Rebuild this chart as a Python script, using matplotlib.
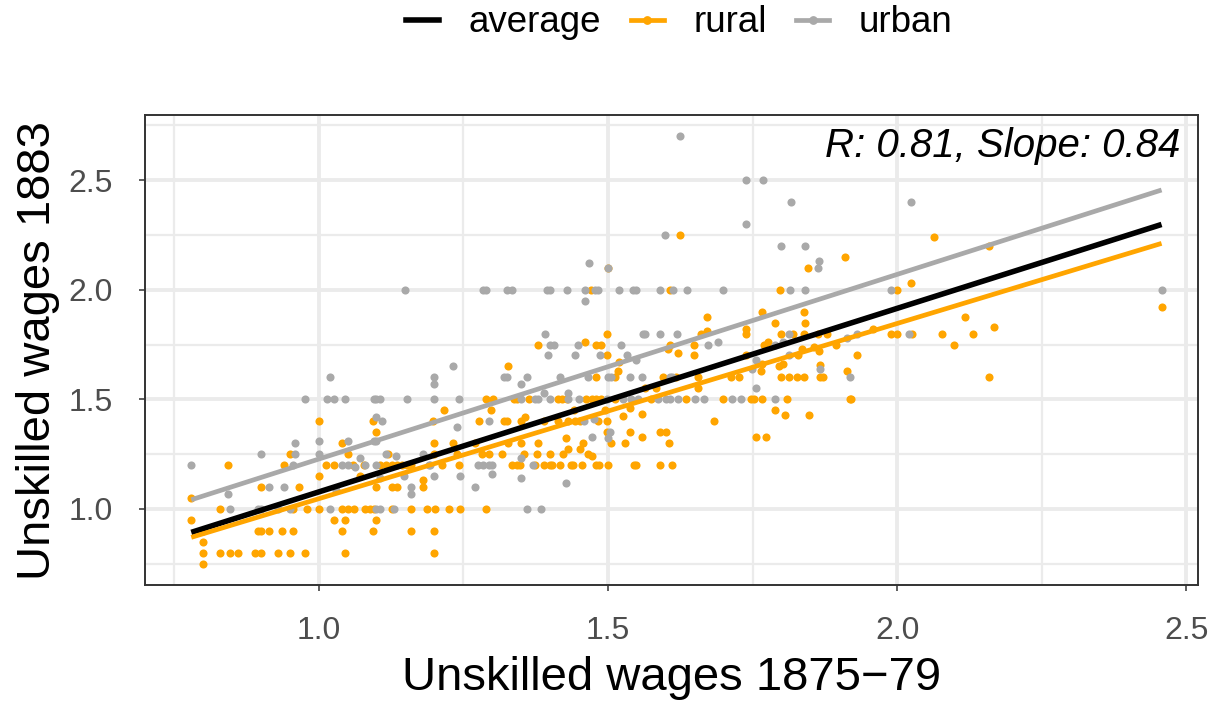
import numpy as np
import matplotlib.pyplot as plt
from matplotlib.lines import Line2D

plt.rcParams['font.family'] = ['Liberation Sans', 'DejaVu Sans']

# wage pairs (1875-79, 1883)
rural = [
    (0.78, 1.05), (0.78, 0.95), (0.80, 0.90), (0.80, 0.85), (0.80, 0.80), (0.80, 0.75),
    (0.843, 1.20), (0.83, 1.00), (0.83, 0.80), (0.847, 0.80), (0.86, 0.80),
    (0.90, 1.10), (0.89, 0.80), (0.90, 0.80),
    (0.895, 0.90), (0.90, 0.90), (0.914, 0.90), (0.937, 0.90), (0.955, 0.90),
    (0.93, 0.80), (0.95, 0.80), (0.976, 0.80),
    (0.94, 1.20), (0.95, 1.25), (0.966, 1.10),
    (0.955, 1.00), (0.98, 1.00), (1.00, 1.00),
    (1.00, 1.40), (1.00, 1.15), (1.013, 1.20), (1.026, 1.20), (1.04, 1.30),
    (1.027, 0.95), (1.04, 1.00), (1.04, 0.90), (1.046, 0.80),
    (1.327, 1.65),
    (1.29, 1.50), (1.302, 1.50), (1.337, 1.50), (1.343, 1.50), (1.364, 1.50),
    (1.298, 1.45), (1.217, 1.45),
    (1.197, 1.40), (1.278, 1.40), (1.32, 1.40), (1.325, 1.40), (1.35, 1.40), (1.357, 1.42),
    (1.094, 1.40), (1.10, 1.35),
    (1.20, 1.30), (1.232, 1.30), (1.27, 1.30), (1.327, 1.30), (1.35, 1.30),
    (1.05, 1.25), (1.12, 1.25), (1.20, 1.25), (1.24, 1.25), (1.282, 1.25), (1.294, 1.25), (1.317, 1.25),
    (1.06, 1.20), (1.078, 1.20), (1.107, 1.20), (1.117, 1.20), (1.127, 1.20), (1.136, 1.20),
    (1.145, 1.20), (1.153, 1.20), (1.16, 1.20), (1.213, 1.20), (1.242, 1.20), (1.334, 1.20), (1.343, 1.20),
    (1.071, 1.15),
    (1.127, 1.10), (1.136, 1.10), (1.18, 1.13), (1.18, 1.10), (1.10, 1.10),
    (1.05, 1.00), (1.061, 1.00), (1.081, 1.00), (1.089, 1.00), (1.095, 1.00), (1.127, 1.00),
    (1.16, 1.00), (1.187, 1.00), (1.202, 1.00), (1.225, 1.00), (1.245, 1.00), (1.29, 1.00),
    (1.046, 0.95), (1.10, 0.95),
    (1.094, 0.90), (1.16, 0.90), (1.20, 0.90),
    (1.20, 0.80),
    (1.47, 2.00), (1.50, 2.10), (1.608, 2.00), (1.624, 2.25), (1.798, 2.00), (1.846, 2.10),
    (1.91, 2.15), (1.671, 1.874),
    (1.38, 1.75), (1.46, 1.76), (1.479, 1.75), (1.489, 1.75), (1.499, 1.80), (1.499, 1.70),
    (1.52, 1.67), (1.518, 1.63), (1.607, 1.75), (1.604, 1.73), (1.622, 1.71), (1.649, 1.75),
    (1.649, 1.70), (1.661, 1.80), (1.671, 1.81),
    (1.48, 1.60), (1.512, 1.60), (1.564, 1.55), (1.595, 1.60), (1.618, 1.60), (1.656, 1.60),
    (1.655, 1.55), (1.584, 1.55),
    (1.414, 1.50), (1.42, 1.50), (1.429, 1.50), (1.463, 1.50), (1.472, 1.50), (1.48, 1.50),
    (1.489, 1.50), (1.512, 1.50), (1.575, 1.50), (1.635, 1.50), (1.699, 1.50),
    (1.441, 1.45), (1.495, 1.45), (1.538, 1.46), (1.559, 1.435),
    (1.39, 1.40), (1.413, 1.40), (1.431, 1.40), (1.443, 1.40), (1.452, 1.40), (1.483, 1.40),
    (1.499, 1.40), (1.527, 1.425), (1.683, 1.40),
    (1.499, 1.35), (1.538, 1.35), (1.559, 1.33), (1.59, 1.35), (1.60, 1.35), (1.605, 1.30),
    (1.529, 1.30), (1.505, 1.30), (1.379, 1.30), (1.427, 1.325),
    (1.431, 1.275), (1.452, 1.275), (1.457, 1.30),
    (1.355, 1.25), (1.377, 1.25), (1.40, 1.25), (1.423, 1.25), (1.466, 1.25), (1.472, 1.24),
    (1.348, 1.20), (1.374, 1.20), (1.389, 1.20), (1.40, 1.20), (1.404, 1.20), (1.418, 1.20),
    (1.436, 1.20), (1.44, 1.20), (1.455, 1.20), (1.48, 1.20), (1.484, 1.20), (1.50, 1.20),
    (1.545, 1.20), (1.549, 1.20), (1.59, 1.20), (1.61, 1.20),
    (1.767, 1.90), (1.839, 1.90), (1.789, 1.85), (1.841, 1.85), (1.739, 1.82), (1.739, 1.80),
    (1.80, 1.80), (1.82, 1.80), (1.839, 1.80), (1.863, 1.80), (1.878, 1.80),
    (1.77, 1.75), (1.776, 1.76), (1.835, 1.73), (1.857, 1.74), (1.865, 1.72), (1.828, 1.70),
    (1.894, 1.75), (1.958, 1.82), (1.989, 1.80), (2.00, 1.80), (2.026, 1.80), (1.93, 1.70), (1.739, 1.70),
    (1.767, 1.66), (1.796, 1.65), (1.802, 1.66), (1.765, 1.63), (1.713, 1.60), (1.726, 1.60),
    (1.80, 1.60), (1.813, 1.60), (1.827, 1.60), (1.839, 1.60), (1.867, 1.60), (1.871, 1.60),
    (1.867, 1.655), (1.914, 1.63),
    (1.747, 1.50), (1.753, 1.50), (1.767, 1.50), (1.809, 1.50), (1.918, 1.50), (1.921, 1.50),
    (1.789, 1.45), (1.807, 1.43), (1.847, 1.43), (1.756, 1.33), (1.773, 1.33),
    (2.064, 2.24), (2.159, 2.20), (2.00, 2.00), (2.024, 2.03), (2.078, 1.80), (2.098, 1.75),
    (2.118, 1.875), (2.131, 1.80), (2.168, 1.83), (2.159, 1.60), (2.457, 1.92),
]

urban = [
    (0.78, 1.20), (0.843, 1.07), (0.847, 1.00), (0.90, 1.25), (0.914, 1.10), (0.94, 1.10),
    (0.896, 1.00), (0.90, 1.00), (0.93, 1.00), (0.95, 1.00), (0.96, 1.30), (0.96, 1.25),
    (0.955, 1.20), (0.976, 1.50), (1.014, 1.50), (1.026, 1.50), (1.02, 1.60), (1.00, 1.31),
    (1.00, 1.25), (1.03, 1.085), (1.02, 1.00), (1.04, 1.20), (1.046, 1.50),
    (1.095, 1.50), (1.10, 1.50), (1.106, 1.50), (1.152, 1.50), (1.199, 1.50), (1.242, 1.50),
    (1.232, 1.65), (1.20, 1.60), (1.20, 1.57), (1.10, 1.42), (1.11, 1.40), (1.05, 1.31),
    (1.095, 1.31), (1.10, 1.31), (1.24, 1.375), (1.072, 1.23), (1.05, 1.20), (1.063, 1.19),
    (1.08, 1.20), (1.10, 1.20), (1.117, 1.25), (1.133, 1.24), (1.18, 1.25), (1.19, 1.20),
    (1.193, 1.20), (1.147, 1.15), (1.107, 1.14), (1.16, 1.10), (1.16, 1.07), (1.20, 1.15),
    (1.245, 1.15), (1.27, 1.10), (1.275, 1.20), (1.285, 1.20), (1.294, 1.20), (1.30, 1.20),
    (1.30, 1.16), (1.295, 1.40), (1.35, 1.50), (1.35, 1.57), (1.36, 1.60), (1.32, 1.60),
    (1.325, 1.60), (1.35, 1.23), (1.35, 1.14), (1.37, 1.20), (1.10, 1.00), (1.107, 1.00),
    (1.13, 1.00), (1.36, 1.00), (1.384, 1.00), (1.38, 1.50),
    (1.15, 2.00), (1.285, 2.00), (1.29, 2.00), (1.325, 2.00), (1.335, 2.00), (1.395, 2.00),
    (1.40, 2.00), (1.43, 2.00), (1.46, 2.00), (1.478, 2.00), (1.483, 2.00), (1.46, 1.95),
    (1.467, 2.12), (1.50, 2.10),
    (1.624, 2.70), (1.739, 2.50), (1.769, 2.50), (1.817, 2.40), (1.739, 2.30), (1.599, 2.25),
    (1.799, 2.20), (1.84, 2.20), (1.865, 2.13), (1.864, 2.10), (1.52, 2.00), (1.544, 2.00),
    (1.549, 2.00), (1.59, 2.00), (1.613, 2.00), (1.636, 2.00), (1.699, 2.00), (1.814, 2.00),
    (1.84, 2.00),
    (1.391, 1.80), (1.40, 1.75), (1.407, 1.75), (1.397, 1.70), (1.443, 1.70), (1.449, 1.75),
    (1.487, 1.70), (1.522, 1.75), (1.533, 1.70), (1.549, 1.68), (1.56, 1.80), (1.564, 1.80),
    (1.59, 1.80), (1.619, 1.80), (1.673, 1.75), (1.69, 1.76),
    (1.417, 1.60), (1.466, 1.60), (1.50, 1.60), (1.505, 1.60), (1.539, 1.60), (1.559, 1.60),
    (1.607, 1.60), (1.611, 1.60),
    (1.39, 1.53), (1.431, 1.53),
    (1.374, 1.50), (1.40, 1.50), (1.431, 1.50), (1.45, 1.50), (1.499, 1.50), (1.526, 1.50),
    (1.54, 1.50), (1.552, 1.50), (1.587, 1.50), (1.601, 1.50), (1.607, 1.50), (1.622, 1.50),
    (1.65, 1.50), (1.666, 1.50), (1.715, 1.50),
    (1.458, 1.40), (1.476, 1.41), (1.473, 1.33), (1.503, 1.35), (1.50, 1.325), (1.427, 1.12),
    (1.813, 1.80), (1.789, 1.75), (1.803, 1.76), (1.756, 1.68), (1.749, 1.64), (1.813, 1.70),
    (1.866, 1.64), (1.914, 1.78), (1.931, 1.80), (2.02, 1.80), (1.756, 1.55), (1.918, 1.60),
    (1.73, 1.50), (1.789, 1.50),
    (2.024, 2.40), (1.989, 2.00), (2.457, 2.00),
]

# linear fits as drawn (intercept, slope)
fit_groups = ['average', 'rural', 'urban']
fit_intercept = [0.239, 0.246, 0.384]
fit_slope = [0.838, 0.800, 0.843]
fit_colors = ['black', '#FFA500', '#A9A9A9']
fit_widths = [4.0, 3.4, 3.4]

x_ticks = [1.0, 1.5, 2.0, 2.5]
x_tick_labels = ['1.0', '1.5', '2.0', '2.5']
y_ticks = [1.0, 1.5, 2.0, 2.5]
y_tick_labels = ['1.0', '1.5', '2.0', '2.5']
stat_label = 'R: 0.81, Slope: 0.84'

rx, ry = np.array(rural).T
ux, uy = np.array(urban).T
all_x = np.concatenate([rx, ux])

W, H = 1225, 704
fig = plt.figure(figsize=(W / 100, H / 100), dpi=100)
left, right, top, bottom = 145, 1198, 115, 585
ax = fig.add_axes([left / W, 1 - bottom / H, (right - left) / W, (bottom - top) / H])

ax.scatter(rx, ry, s=34, color='#FFA500', linewidths=0, zorder=2)
ax.scatter(ux, uy, s=34, color='#A9A9A9', linewidths=0, zorder=2)

xs = np.array([all_x.min(), all_x.max()])
for b, m, c, lw in zip(fit_intercept, fit_slope, fit_colors, fit_widths):
    ax.plot(xs, b + m * xs, color=c, lw=lw, solid_capstyle='butt', zorder=3)

ax.set_xlim(0.70, 2.52)
ax.set_ylim(0.6525, 2.7975)
ax.set_xticks(x_ticks)
ax.set_xticklabels(x_tick_labels)
ax.set_yticks(y_ticks)
ax.set_yticklabels(y_tick_labels)
ax.set_xticks([0.75, 1.25, 1.75, 2.25], minor=True)
ax.set_yticks([0.75, 1.25, 1.75, 2.25, 2.75], minor=True)
ax.grid(which='major', color='#EBEBEB', lw=2.8)
ax.grid(which='minor', color='#EBEBEB', lw=1.6)
ax.set_axisbelow(True)
ax.tick_params(which='minor', length=0)
ax.tick_params(which='major', length=4.3, width=1.1, color='#333333',
               labelsize=23, labelcolor='#4D4D4D')
ax.tick_params(axis='x', pad=18)
ax.tick_params(axis='y', pad=19)
for sp in ax.spines.values():
    sp.set_color('#333333')
    sp.set_linewidth(1.4)

ax.text(0.983, 0.9106, stat_label, transform=ax.transAxes, ha='right', va='baseline',
        fontsize=29, style='italic')

cx = (left + right) / 2 / W
fig.text(cx, 1 - 690 / H, 'Unskilled wages 1875\u221279', ha='center', va='baseline', fontsize=34)
fig.text(50 / W, 1 - (top + bottom) / 2 / H, 'Unskilled wages 1883', rotation=90,
         rotation_mode='anchor', ha='center', va='baseline', fontsize=34)

handles = [
    Line2D([], [], color='black', lw=4.0),
    Line2D([], [], color='#FFA500', lw=3.4, marker='o', ms=5.3),
    Line2D([], [], color='#A9A9A9', lw=3.4, marker='o', ms=5.3),
]
fig.legend(handles, fit_groups, loc='center', bbox_to_anchor=(679.5 / W, 1 - 23 / H), ncol=3,
           frameon=False, fontsize=26.5, handlelength=0.9, handletextpad=0.8,
           columnspacing=0.8, borderpad=0, borderaxespad=0)

fig.savefig('out.png', dpi=100)
